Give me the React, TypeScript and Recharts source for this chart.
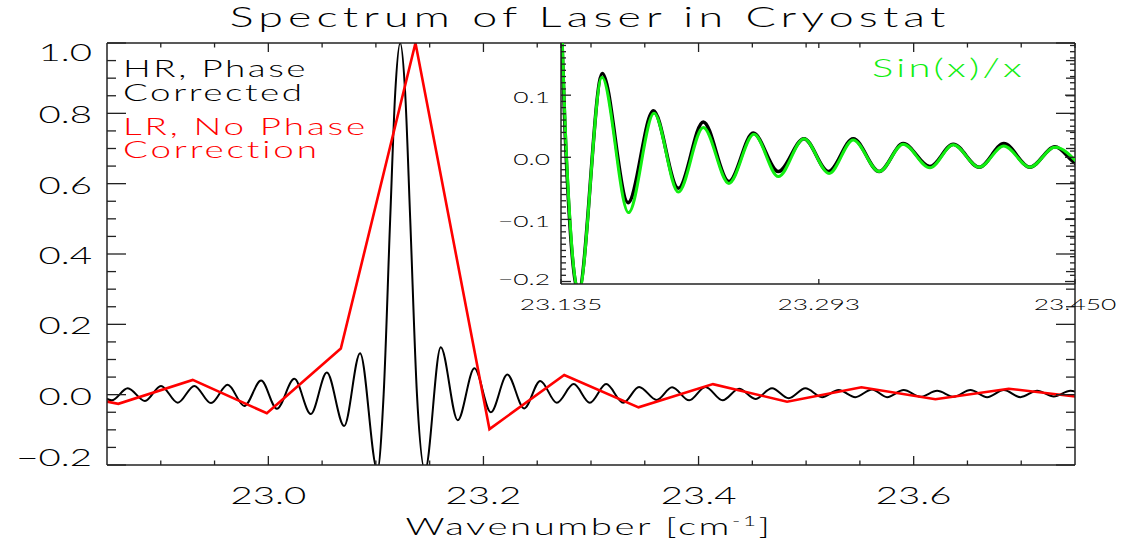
import React from 'react';
import { LineChart, Line, XAxis, YAxis } from 'recharts';

// ---------- DATA ----------
const hrWavenumber = [22.8383, 22.8544, 22.8693, 22.8853, 22.9002, 22.9158, 22.9312, 22.9467, 22.9622, 22.9777, 22.9933, 23.0079, 23.0242, 23.0395, 23.0544, 23.0705, 23.0853, 23.1014, 23.1072, 23.1133, 23.1180, 23.1226, 23.1272, 23.1319, 23.1382, 23.1457, 23.1603, 23.1761, 23.1916, 23.2069, 23.2222, 23.2379, 23.2528, 23.2682, 23.2839, 23.2989, 23.3141, 23.3300, 23.3447, 23.3611, 23.3754, 23.3913, 23.4064, 23.4224, 23.4377, 23.4528, 23.4683, 23.4838, 23.4993, 23.5148, 23.5303, 23.5458, 23.5613, 23.5753, 23.5907, 23.6063, 23.6218, 23.6373, 23.6528, 23.6683, 23.6838, 23.6993, 23.7148, 23.7303, 23.7458, 23.7610];
const hrIntensity = [0.016, -0.016, 0.018, -0.018, 0.025, -0.023, 0.025, -0.024, 0.028, -0.032, 0.040, -0.040, 0.045, -0.055, 0.063, -0.089, 0.118, -0.215, 0.0, 0.5, 0.86, 1.0, 0.86, 0.5, 0.0, -0.215, 0.135, -0.073, 0.075, -0.050, 0.057, -0.039, 0.039, -0.023, 0.030, -0.023, 0.030, -0.023, 0.022, -0.015, 0.021, -0.016, 0.022, -0.016, 0.017, -0.012, 0.018, -0.010, 0.018, -0.007, 0.013, -0.007, 0.015, -0.007, 0.013, -0.006, 0.011, -0.006, 0.013, -0.007, 0.013, -0.007, 0.011, -0.005, 0.011, -0.006];

const lrWavenumber = [22.7914, 22.8605, 22.9297, 22.9986, 23.0674, 23.1368, 23.2056, 23.2751, 23.3442, 23.4134, 23.4823, 23.5514, 23.6202, 23.6884, 23.7576];
const lrIntensity = [0.015, -0.026, 0.042, -0.053, 0.131, 1.0, -0.098, 0.056, -0.036, 0.030, -0.020, 0.021, -0.013, 0.017, -0.008];

const sincWavenumber = [23.1075, 23.1133, 23.1226, 23.1319, 23.1384, 23.1458, 23.1601, 23.1764, 23.1920, 23.2069, 23.2222, 23.2379, 23.2532, 23.2682, 23.2839, 23.2993, 23.3141, 23.3300, 23.3447, 23.3611, 23.3754, 23.3913, 23.4064, 23.4224, 23.4377, 23.4530];
const sincValue = [0.0, 0.5, 1.0, 0.5, 0.0, -0.217, 0.129, -0.089, 0.071, -0.056, 0.048, -0.042, 0.037, -0.031, 0.030, -0.026, 0.028, -0.023, 0.021, -0.017, 0.020, -0.016, 0.018, -0.016, 0.016, -0.013];

// tick values / labels
const mainXMajor = [23.0, 23.2, 23.4, 23.6];
const mainXLabels = ['23.0', '23.2', '23.4', '23.6'];
const mainXTicks = [22.9, 22.95, 23.0, 23.05, 23.1, 23.15, 23.2, 23.25, 23.3, 23.35, 23.4, 23.45, 23.5, 23.55, 23.6, 23.65, 23.7];
const mainYMajor = [-0.2, 0.0, 0.2, 0.4, 0.6, 0.8, 1.0];
const mainYLabels = ['\u22120.2', '0.0', '0.2', '0.4', '0.6', '0.8', '1.0'];
const mainYTicks = Array.from({ length: 25 }, (_, i) => Math.round((-0.2 + i * 0.05) * 1000) / 1000);
const insetXMajor = [23.135, 23.293, 23.45];
const insetXLabels = ['23.135', '23.293', '23.450'];
const insetYMajor = [-0.2, -0.1, 0.0, 0.1];
const insetYLabels = ['\u22120.2', '\u22120.1', '0.0', '0.1'];
const insetYTicks = Array.from({ length: 39 }, (_, i) => Math.round((-0.2 + i * 0.01) * 1000) / 1000);

const legendHR = ['HR, Phase', 'Corrected'];
const legendLR = ['LR, No Phase', 'Correction'];

const hrData = hrWavenumber.map((x, i) => ({ x, y: hrIntensity[i] }));
const lrData = lrWavenumber.map((x, i) => ({ x, y: lrIntensity[i] }));
const sincData = sincWavenumber.map((x, i) => ({ x, y: sincValue[i] }));

// ---------- STYLE ----------
const FONT = 'Lato';
const SX = 1.6;
const AXIS = '#222';

function SText({ x, y, size, anchor = 'start', fill = '#000', ls = 0, children }: any) {
  return (
    <text
      transform={`translate(${x},${y}) scale(${SX},1)`}
      x={0}
      y={0}
      textAnchor={anchor}
      fontFamily={FONT}
      fontWeight={300}
      fontSize={size}
      letterSpacing={ls}
      fill={fill}
    >
      {children}
    </text>
  );
}

const findIdx = (arr: number[], v: number) => arr.findIndex((m) => Math.abs(m - v) < 1e-9);

function makeTick(orient: string, majors: number[], labels: string[] | null, majorLen: number, minorLen: number, size: number, gap: number, minC = -1e9, maxC = 1e9) {
  return (props: any) => {
    const { x, y, payload } = props;
    const idx = findIdx(majors, payload.value);
    const major = idx >= 0;
    const len = major ? majorLen : minorLen;
    let line;
    let label = null;
    if (orient === 'bottom') {
      line = <line x1={x} x2={x} y1={y} y2={y - len} stroke={AXIS} strokeWidth={1.3} />;
      if (major && labels) label = <SText x={x} y={y + gap} size={size} anchor="middle">{labels[idx]}</SText>;
    } else if (orient === 'top') {
      line = <line x1={x} x2={x} y1={y} y2={y + len} stroke={AXIS} strokeWidth={1.3} />;
    } else if (orient === 'left') {
      line = <line x1={x} x2={x + len} y1={y} y2={y} stroke={AXIS} strokeWidth={1.3} />;
      const c = Math.min(maxC, Math.max(minC, y + 1.5));
      if (major && labels) label = <SText x={x - gap} y={c + size * 0.36} size={size} anchor="end">{labels[idx]}</SText>;
    } else {
      line = <line x1={x} x2={x - len} y1={y} y2={y} stroke={AXIS} strokeWidth={1.3} />;
    }
    return (
      <g>
        {line}
        {label}
      </g>
    );
  };
}

const mainBottomTick = makeTick('bottom', mainXMajor, mainXLabels, 9, 4.5, 24, 39);
const mainTopTick = makeTick('top', mainXMajor, null, 9, 4.5, 24, 0);
const mainLeftTick = makeTick('left', mainYMajor, mainYLabels, 19, 9, 24, 15, 52, 457);
const mainRightTick = makeTick('right', mainYMajor, null, 19, 9, 24, 0);
const insetBottomTick = makeTick('bottom', insetXMajor, insetXLabels, 5, 2.5, 16.5, 26);
const insetTopTick = makeTick('top', insetXMajor, null, 5, 2.5, 16.5, 0);
const insetLeftTick = makeTick('left', insetYMajor, insetYLabels, 10, 5, 16.5, 11, 50, 279);
const insetRightTick = makeTick('right', insetYMajor, null, 10, 5, 16.5, 0);

const axisLine = { stroke: AXIS, strokeWidth: 1.5 };

function Lines({ x, y, lines, size, ls, fill, pitch }: any) {
  return (
    <text transform={`translate(${x},${y}) scale(${SX},1)`} fontFamily={FONT} fontWeight={300} fontSize={size} letterSpacing={ls} fill={fill}>
      {lines.map((t: string, i: number) => (
        <tspan key={i} x={0} y={i * pitch}>{t}</tspan>
      ))}
    </text>
  );
}

export default function App() {
  return (
    <div style={{ position: 'absolute', left: 0, top: 0, width: 1123, height: 550, background: '#fff', overflow: 'hidden' }}>
      <div style={{ position: 'absolute', left: 0, top: 0 }}>
        <LineChart width={1123} height={550} margin={{ top: 42, right: 47, bottom: 84, left: 106 }}>
          <XAxis xAxisId="b" type="number" dataKey="x" domain={[22.85, 23.75]} allowDataOverflow ticks={mainXTicks} interval={0}
            height={1} tickSize={0} tickMargin={0} axisLine={axisLine} tickLine={false} tick={mainBottomTick} />
          <XAxis xAxisId="t" orientation="top" type="number" dataKey="x" domain={[22.85, 23.75]} allowDataOverflow ticks={mainXTicks} interval={0}
            height={1} tickSize={0} tickMargin={0} axisLine={axisLine} tickLine={false} tick={mainTopTick} />
          <YAxis yAxisId="l" type="number" domain={[-0.2, 1.0]} allowDataOverflow ticks={mainYTicks} interval={0}
            width={1} tickSize={0} tickMargin={0} axisLine={axisLine} tickLine={false} tick={mainLeftTick} />
          <YAxis yAxisId="r" orientation="right" type="number" domain={[-0.2, 1.0]} allowDataOverflow ticks={mainYTicks} interval={0}
            width={1} tickSize={0} tickMargin={0} axisLine={axisLine} tickLine={false} tick={mainRightTick} />
          <Line xAxisId="b" yAxisId="l" data={hrData} dataKey="y" type="monotone" stroke="#000" strokeWidth={2}
            dot={false} activeDot={false} isAnimationActive={false} />
          <Line xAxisId="b" yAxisId="l" data={lrData} dataKey="y" type="linear" stroke="#ff0000" strokeWidth={2.6}
            dot={false} activeDot={false} isAnimationActive={false} />
        </LineChart>
      </div>
      <div style={{ position: 'absolute', left: 0, top: 0 }}>
        <LineChart width={1123} height={550} margin={{ top: 42, right: 47, bottom: 265, left: 560 }}>
          <XAxis xAxisId="b" type="number" dataKey="x" domain={[23.135, 23.45]} allowDataOverflow ticks={insetXMajor} interval={0}
            height={1} tickSize={0} tickMargin={0} axisLine={axisLine} tickLine={false} tick={insetBottomTick} />
          <XAxis xAxisId="t" orientation="top" type="number" dataKey="x" domain={[23.135, 23.45]} allowDataOverflow ticks={insetXMajor} interval={0}
            height={1} tickSize={0} tickMargin={0} axisLine={false} tickLine={false} tick={insetTopTick} />
          <YAxis yAxisId="l" type="number" domain={[-0.204, 0.184]} allowDataOverflow ticks={insetYTicks} interval={0}
            width={1} tickSize={0} tickMargin={0} axisLine={axisLine} tickLine={false} tick={insetLeftTick} />
          <YAxis yAxisId="r" orientation="right" type="number" domain={[-0.204, 0.184]} allowDataOverflow ticks={insetYTicks} interval={0}
            width={1} tickSize={0} tickMargin={0} axisLine={false} tickLine={false} tick={insetRightTick} />
          <Line xAxisId="b" yAxisId="l" data={hrData} dataKey="y" type="monotone" stroke="#000" strokeWidth={3.5}
            dot={false} activeDot={false} isAnimationActive={false} />
          <Line xAxisId="b" yAxisId="l" data={sincData} dataKey="y" type="monotone" stroke="#11ee11" strokeWidth={3}
            dot={false} activeDot={false} isAnimationActive={false} />
        </LineChart>
      </div>
      <svg width={1123} height={550} style={{ position: 'absolute', left: 0, top: 0, pointerEvents: 'none' }}>
        <SText x={590} y={27} size={28} anchor="middle" ls={3.2}>Spectrum of Laser in Cryostat</SText>
        <Lines x={123} y={77} lines={legendHR} size={23} ls={1.6} fill="#000" pitch={24} />
        <Lines x={123} y={135} lines={legendLR} size={23} ls={1.8} fill="#ff0000" pitch={23} />
        <SText x={872} y={77} size={25} ls={2.0} fill="#11ee11">Sin(x)/x</SText>
        <text transform={`translate(589,535) scale(${SX},1)`} textAnchor="middle" fontFamily={FONT} fontWeight={300} fontSize={24} letterSpacing={1.6} fill="#000">
          Wavenumber [cm<tspan dy={-9} fontSize={14}>-1</tspan><tspan dy={9}>]</tspan>
        </text>
      </svg>
    </div>
  );
}
